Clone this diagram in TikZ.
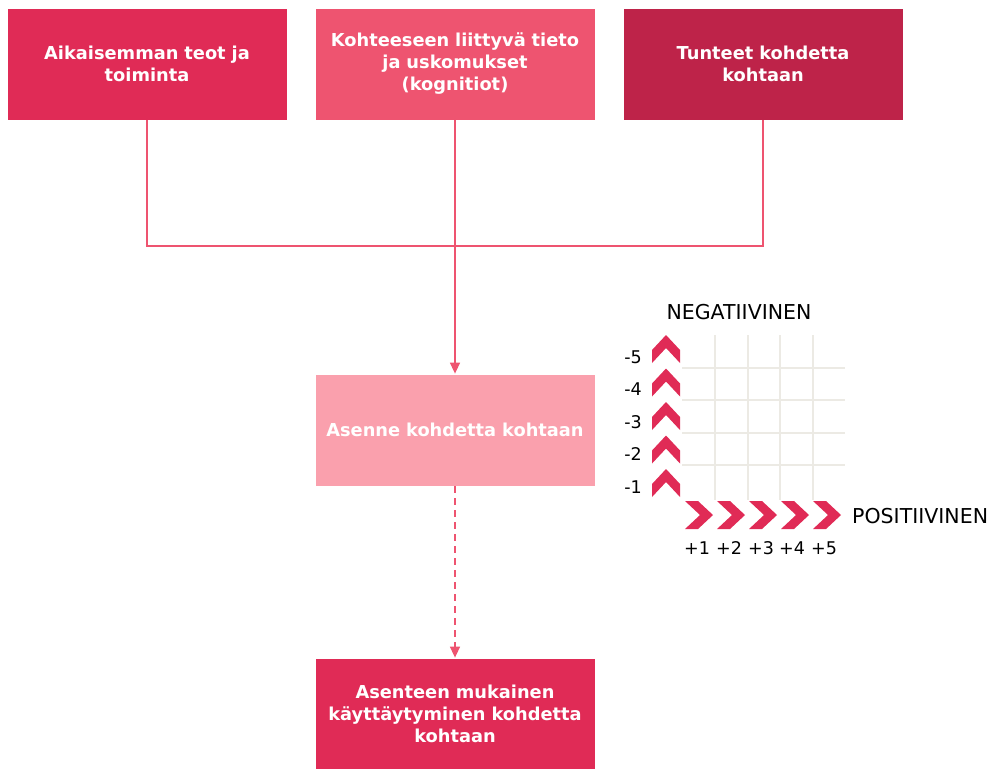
\documentclass[tikz,border=0pt]{standalone}
\usepackage{fontspec}
\setmainfont{DejaVu Sans}
\usetikzlibrary{arrows.meta}
\definecolor{cRed}{RGB}{224,43,86}
\definecolor{cPink}{RGB}{238,84,112}
\definecolor{cDark}{RGB}{190,35,73}
\definecolor{cLight}{RGB}{250,160,173}
\definecolor{cLine}{RGB}{238,84,112}
\definecolor{cGrid}{RGB}{236,234,228}
\tikzset{
  box/.style={rectangle, draw=white, line width=0.8pt, minimum width=280pt, minimum height=112pt,
    text width=270pt, align=center, inner sep=0pt, text=white,
    font=\fontsize{17.8}{22}\selectfont\bfseries},
  conn/.style={draw=cLine, line width=1.5pt},
  arr/.style={-{Triangle[width=10pt,length=11pt]}},
  lbl/.style={font=\fontsize{20.5}{24}\selectfont, inner sep=0pt},
  num/.style={font=\fontsize{17.5}{20}\selectfont, inner sep=0pt},
  gridline/.style={draw=cGrid, line width=1.6pt},
  upchev/.pic={\fill[cRed] (14,0) -- (28,15) -- (28,28) -- (14,13) -- (0,28) -- (0,15) -- cycle;},
  rtchev/.pic={\fill[cRed] (0,0) -- (13,0) -- (28,14) -- (13,28) -- (0,28) -- (15,14) -- cycle;}
}
\begin{document}
\begin{tikzpicture}[x=1pt,y=-1pt]
\useasboundingbox (0,0) rectangle (995,769);
% boxes
\node[box, fill=cRed]   (b1) at (147,64)   {Aikaisemman teot ja\\toiminta};
\node[box, fill=cPink]  (b2) at (455,64)   {Kohteeseen liittyvä tieto\\ja uskomukset\\(kognitiot)};
\node[box, fill=cDark]  (b3) at (763,64)   {Tunteet kohdetta\\kohtaan};
\node[box, fill=cLight] (b4) at (455,430)  {Asenne kohdetta kohtaan};
\node[box, fill=cRed, minimum height=111pt] (b5) at (455,713.5) {Asenteen mukainen\\käyttäytyminen kohdetta\\kohtaan};
% connectors
\coordinate (jn) at (455,246);
\draw[conn] (b1.south) |- (jn) -| (b3.south);
\draw[conn, arr] (b2.south) -- (b4.north);
\draw[conn, arr, dashed, dash pattern=on 7pt off 5pt] (b4.south) -- (b5.north);
% grid
\foreach \x in {715,748,780,813} \draw[gridline] (\x,335) -- (\x,500);
\foreach \y in {368,400,433,465} \draw[gridline] (682,\y) -- (845,\y);
% chevrons
\foreach \y in {335,368.5,402,435.5,469} \pic at (652,\y) {upchev};
\foreach \x in {685,717,749,781,813} \pic at (\x,501) {rtchev};
% labels
\node[lbl] (neg) at (739,312) {NEGATIIVINEN};
\node[lbl, anchor=west] (pos) at (852,516) {POSITIIVINEN};
\node[num] (m5) at (633,357) {-5};
\node[num] (m4) at (633,389) {-4};
\node[num] (m3) at (633,422) {-3};
\node[num] (m2) at (633,454) {-2};
\node[num] (m1) at (633,487) {-1};
\node[num] (p1) at (697,548) {+1};
\node[num] (p2) at (729,548) {+2};
\node[num] (p3) at (761,548) {+3};
\node[num] (p4) at (792,548) {+4};
\node[num] (p5) at (824,548) {+5};
\end{tikzpicture}
\end{document}
